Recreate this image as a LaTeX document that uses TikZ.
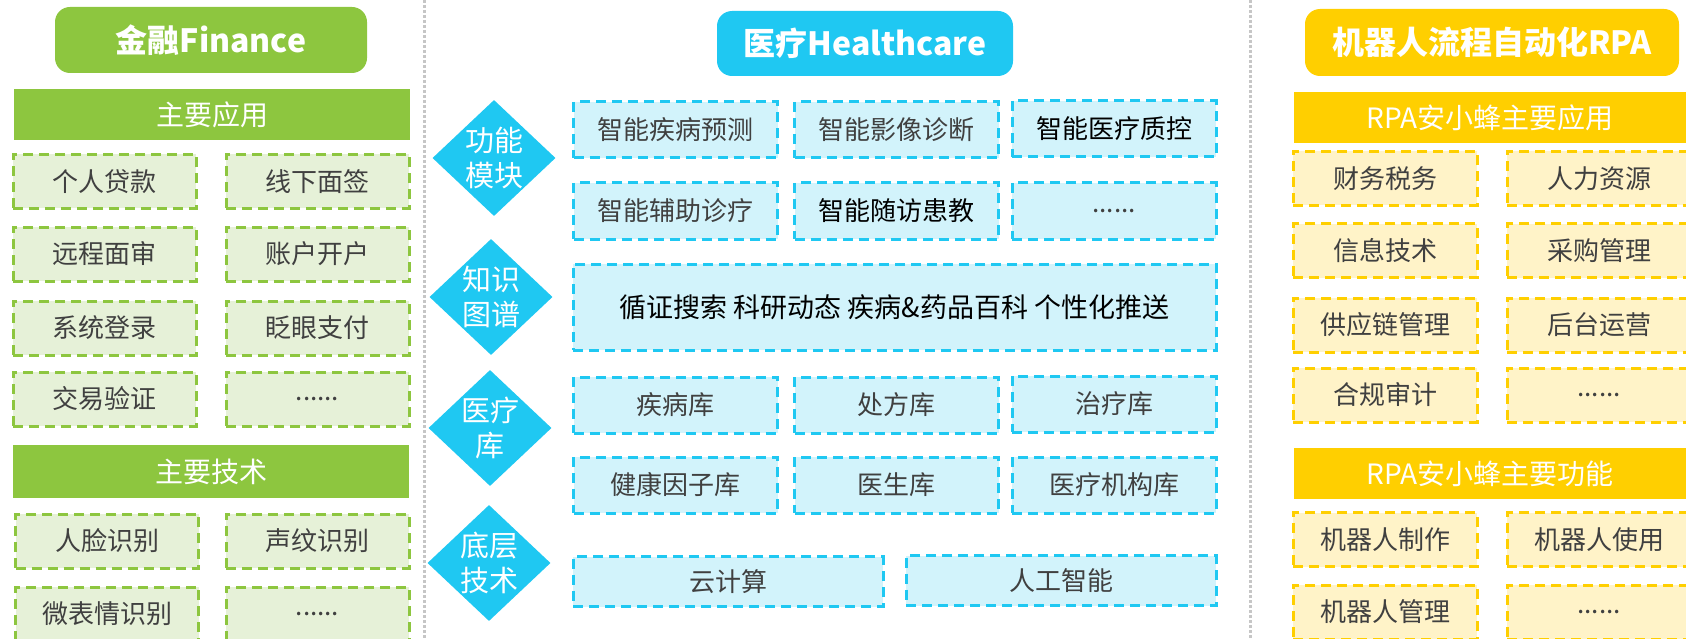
\documentclass[tikz,border=0pt]{standalone}
\usepackage{fontspec}
\setmainfont{Noto Sans CJK SC}
\usetikzlibrary{shapes.geometric}
\definecolor{fingreen}{HTML}{8DC63F}
\definecolor{finlight}{HTML}{E6F1D8}
\definecolor{medblue}{HTML}{1FC8F2}
\definecolor{medlight}{HTML}{D2F3FB}
\definecolor{rpayellow}{HTML}{FFCF00}
\definecolor{rpalight}{HTML}{FFF3C8}
\definecolor{textgray}{HTML}{404040}
\tikzset{
  titlebox/.style={rounded corners=15pt, minimum height=66pt, text=white, font=\fontsize{32}{38}\selectfont\bfseries, inner sep=0pt},
  headbar/.style={minimum height=51pt, text=white, font=\fontsize{28}{34}\selectfont, inner sep=0pt},
  itembox/.style={dash pattern=on 10pt off 6pt, line width=3pt, minimum height=54pt, text=textgray, font=\fontsize{26}{30}\selectfont, inner sep=0pt},
  sidetag/.style={diamond, fill=medblue, minimum width=123pt, minimum height=116pt, inner sep=0pt},
  tagtext/.style={text=white, font=\fontsize{29}{35}\selectfont, align=center, inner sep=0pt},
  sepline/.style={line width=3pt, gray!45, dash pattern=on 3pt off 2pt}
}
\newcommand{\finitem}[4]{\node[itembox, draw=fingreen, fill=finlight, minimum width=183pt] (#1) at (#2,#3) {#4};}
\newcommand{\meditem}[5][]{\node[itembox, draw=medblue, fill=medlight, minimum width=204pt, minimum height=56pt, #1] (#2) at (#3,#4) {#5};}
\newcommand{\rpaitem}[4]{\node[itembox, draw=rpayellow, fill=rpalight, minimum width=184pt] (#1) at (#2,#3) {#4};}
\newcommand{\medtag}[4]{\node[sidetag, label={[tagtext]center:{#4}}] (#1) at (#2,#3) {};}

\begin{document}
\begin{tikzpicture}[x=1pt,y=-1pt]
    \useasboundingbox (0,0) rectangle (1686,639);
    \draw[sepline] (424,0) -- (424,639); \draw[sepline] (1250,0) -- (1250,639);

    \node[titlebox, fill=fingreen, minimum width=312pt] (fin) at (211,40) {金融Finance};
    \node[headbar, fill=fingreen, minimum width=396pt] (finapp) at (212,114.5) {主要应用};
    \finitem{F1}{104.5}{181.5}{个人贷款}  \finitem{F2}{317.5}{181.5}{线下面签}
    \finitem{F3}{104.5}{254}{远程面审}    \finitem{F4}{317.5}{254}{账户开户}
    \finitem{F5}{104.5}{328}{系统登录}    \finitem{F6}{317.5}{328}{眨眼支付}
    \finitem{F7}{104.5}{399}{交易验证}    \finitem{F8}{317.5}{399}{......}
    \node[headbar, fill=fingreen, minimum width=396pt, minimum height=53pt] (fintech) at (211,471.5) {主要技术};
    \finitem{FT1}{107}{541}{人脸识别}     \finitem{FT2}{317.5}{541}{声纹识别}
    \finitem{FT3}{107}{614}{微表情识别}   \finitem{FT4}{317.5}{614}{......}

    \node[titlebox, fill=medblue, minimum width=296pt, minimum height=65pt] (med) at (865,43.5) {医疗Healthcare};
    \medtag{T1}{494}{158}{功能\\模块}  \medtag{T2}{491}{297}{知识\\图谱}
    \medtag{T3}{490}{428}{医疗\\库}    \medtag{T4}{489}{563}{底层\\技术}
    \meditem{M1}{675.5}{130}{智能疾病预测} \meditem{M2}{896.5}{130}{智能影像诊断}
    \meditem[text=black]{M3}{1114}{129}{智能医疗质控}
    \meditem{M4}{675.5}{211}{智能辅助诊疗} \meditem[text=black]{M5}{896.5}{211}{智能随访患教}
    \meditem{M6}{1114}{211}{......}
    \meditem[text=black, minimum width=643pt, minimum height=86pt, font=\fontsize{27}{32}\selectfont]{M7}{894.5}{307}{循证搜索 科研动态 疾病\&药品百科 个性化推送}
    \meditem{M8}{675.5}{405}{疾病库}       \meditem{M9}{896.5}{405}{处方库}     \meditem{M10}{1114}{404}{治疗库}
    \meditem{M11}{675.5}{485}{健康因子库}  \meditem{M12}{896.5}{485}{医生库}    \meditem{M13}{1114}{485}{医疗机构库}
    \meditem[minimum width=310pt, minimum height=50pt]{M14}{728}{581.5}{云计算}
    \meditem[minimum width=310pt, minimum height=50pt]{M15}{1061}{580.5}{人工智能}

    \node[titlebox, fill=rpayellow, minimum width=374pt, minimum height=67pt] (rpa) at (1492,42.5) {机器人流程自动化RPA};
    \node[headbar, fill=rpayellow, minimum width=392pt] (rpaapp) at (1490,117.5) {RPA安小蜂主要应用};
    \rpaitem{R1}{1385}{178.5}{财务税务}    \rpaitem{R2}{1599}{178.5}{人力资源}
    \rpaitem{R3}{1385}{250.5}{信息技术}    \rpaitem{R4}{1599}{250.5}{采购管理}
    \rpaitem{R5}{1385}{325}{供应链管理}    \rpaitem{R6}{1599}{325}{后台运营}
    \rpaitem{R7}{1385}{395}{合规审计}      \rpaitem{R8}{1599}{395}{......}
    \node[headbar, fill=rpayellow, minimum width=392pt] (rpafun) at (1490,473.5) {RPA安小蜂主要功能};
    \rpaitem{R9}{1385}{539.5}{机器人制作}  \rpaitem{R10}{1599}{539.5}{机器人使用}
    \rpaitem{R11}{1385}{612}{机器人管理}   \rpaitem{R12}{1599}{612}{......}
\end{tikzpicture}
\end{document}
